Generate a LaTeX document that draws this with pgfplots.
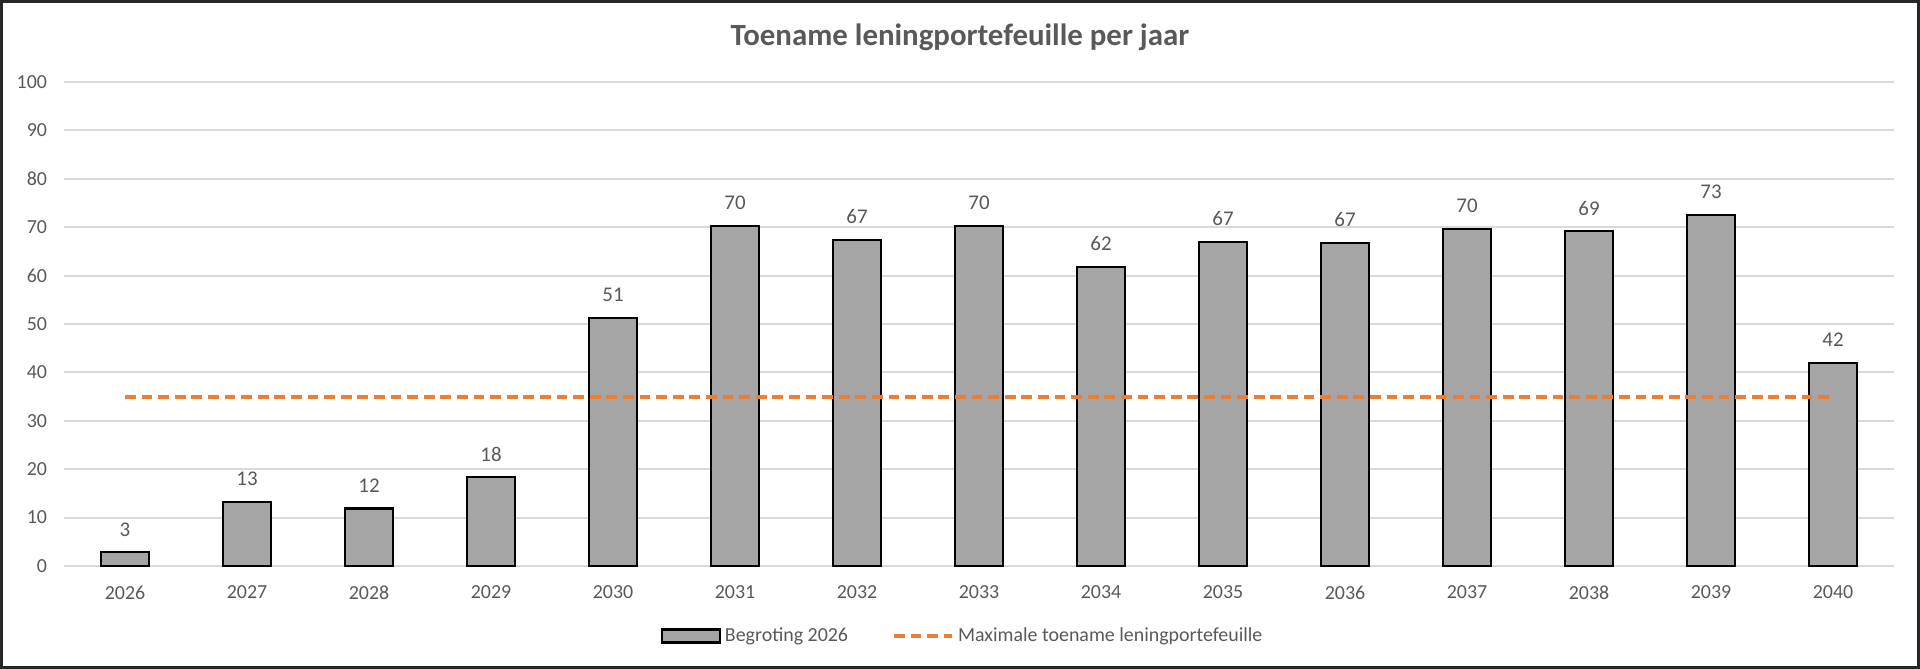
\documentclass[border=0pt]{standalone}
\usepackage{pgfplots}
\pgfplotsset{compat=1.18}
\usepackage{fontspec}
\setmainfont{Carlito}
\definecolor{txt}{HTML}{595959}
\definecolor{gridc}{HTML}{D9D9D9}
\definecolor{barc}{HTML}{A5A5A5}
\definecolor{org}{HTML}{ED7D31}
\pgfplotsset{
  barleg/.style={legend image code/.code={\draw[fill=barc, draw=black, line width=1.1bp] (0bp,-3.25bp) rectangle (29bp,3.25bp);}},
  lineleg/.style={legend image code/.code={\draw[##1] (0bp,0bp) -- (29bp,0bp);}},
}
\begin{document}
\begin{tikzpicture}
\useasboundingbox (0,0) rectangle (960bp,334.5bp);
\draw[line width=1.5bp, black!85] (0.75bp,0.75bp) rectangle (959.25bp,333.75bp);
\node[font=\fontsize{15.5}{18}\selectfont\bfseries, text=txt] at (480bp,316bp) {Toename leningportefeuille per jaar};
\begin{axis}[
  at={(32bp,51.5bp)}, anchor=south west,
  scale only axis, width=915bp, height=242bp,
  xmin=-0.5, xmax=14.5, ymin=0, ymax=100,
  ytick={0,10,...,100},
  xtick={0,...,14},
  xticklabels={2026,2027,2028,2029,2030,2031,2032,2033,2034,2035,2036,2037,2038,2039,2040},
  axis line style={draw=none},
  major tick length=0pt,
  ymajorgrids, grid style={gridc, line width=1bp},
  tick label style={font=\fontsize{10}{12}\selectfont, text=txt},
  yticklabel style={xshift=-5bp},
  xticklabel style={yshift=-6.5bp},
  /pgf/number format/assume math mode=true,
  clip=false,
  legend columns=2,
  legend style={draw=none, fill=none, font=\fontsize{10}{12}\selectfont, text=txt,
    at={(0.4916,-0.1446)}, anchor=center,
    /tikz/every even column/.append style={column sep=20bp}},
]
\addplot[ybar, bar width=24bp, fill=barc, draw=black, line width=1.1bp,
  nodes near coords,
  every node near coord/.append style={font=\fontsize{10.5}{12}\selectfont, text=txt, yshift=4bp,
     /pgf/number format/.cd, fixed, precision=0, assume math mode=true},
  barleg
] coordinates {
(0,2.9) (1,13.3) (2,11.9) (3,18.4) (4,51.3) (5,70.3) (6,67.4) (7,70.3)
(8,61.8) (9,67.0) (10,66.8) (11,69.7) (12,69.2) (13,72.6) (14,42.0)
};
\addlegendentry{Begroting 2026}
\addplot[org, line width=2bp, dash pattern=on 5.4bp off 2.9bp, lineleg] coordinates {(0,35) (14,35)};
\addlegendentry{Maximale toename leningportefeuille}
\end{axis}
\end{tikzpicture}
\end{document}
